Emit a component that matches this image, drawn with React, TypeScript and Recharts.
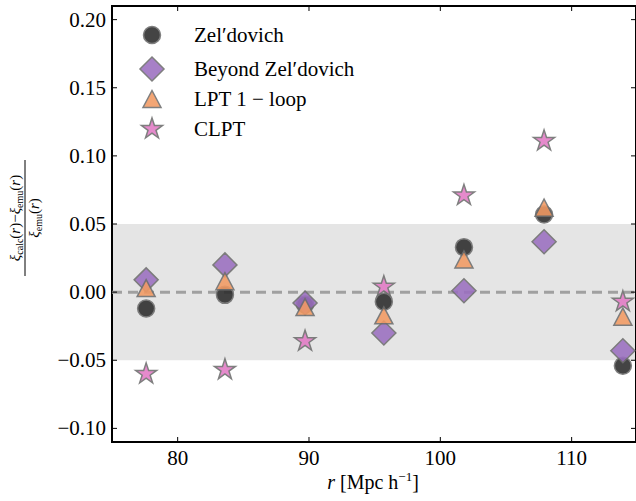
import React from 'react';
import { ScatterChart, Scatter, XAxis, YAxis, ReferenceArea, ReferenceLine, Legend } from 'recharts';

const rValues = [77.6, 83.6, 89.7, 95.7, 101.8, 107.9, 113.9];
const zeldovich = [-0.012, -0.002, -0.009, -0.007, 0.033, 0.057, -0.054];
const beyondZel = [0.009, 0.02, -0.008, -0.03, 0.001, 0.037, -0.043];
const lpt1loop = [0.003, 0.008, -0.011, -0.017, 0.024, 0.062, -0.018];
const clpt = [-0.06, -0.057, -0.036, 0.004, 0.071, 0.111, -0.007];

const seriesNames = ['Zel\u2032dovich', 'Beyond Zel\u2032dovich', 'LPT 1 \u2212 loop', 'CLPT'];
const xTicks = [80, 90, 100, 110];
const yTicks = [-0.1, -0.05, 0, 0.05, 0.1, 0.15, 0.2];

const W = 636;
const H = 501;
const PL = 112;
const PR = 636;
const PT = 6;
const PB = 442;
const EDGE = '#6e6e6e';
const SERIF = "'Liberation Serif'";

const colors = ['#2b2b2b', '#9b6fc0', '#f29a63', '#e27ac5'];
const kinds = ['circle', 'diamond', 'triangle', 'star'];

const toData = (vals: number[]) => rValues.map((r, i) => ({ r, v: vals[i] }));

function markerPath(kind: string, cx: number, cy: number): React.ReactNode {
  if (kind === 'circle') {
    return <circle cx={cx} cy={cy} r={8.5} />;
  }
  if (kind === 'diamond') {
    const d = 12;
    return <path d={`M${cx},${cy - d}L${cx + d},${cy}L${cx},${cy + d}L${cx - d},${cy}Z`} />;
  }
  if (kind === 'triangle') {
    const w = 9;
    const h = 8.5;
    return <path d={`M${cx},${cy - h}L${cx + w},${cy + h}L${cx - w},${cy + h}Z`} />;
  }
  const R = 11;
  const r = R * 0.382;
  let d = '';
  for (let k = 0; k < 10; k++) {
    const a = -Math.PI / 2 + (k * Math.PI) / 5;
    const rad = k % 2 === 0 ? R : r;
    d += `${k === 0 ? 'M' : 'L'}${cx + rad * Math.cos(a)},${cy + rad * Math.sin(a)}`;
  }
  return <path d={d + 'Z'} />;
}

const makeShape = (idx: number) => (props: any) => {
  const { cx, cy } = props;
  if (cx == null || cy == null) return <g />;
  return (
    <g fill={colors[idx]} stroke={EDGE} strokeWidth={1.5} opacity={0.88}>
      {markerPath(kinds[idx], cx, cy)}
    </g>
  );
};

const XTick = (props: any) => {
  const { x, payload } = props;
  return (
    <g>
      <line x1={x} x2={x} y1={PB} y2={PB - 5} stroke="#000" strokeWidth={1} />
      <line x1={x} x2={x} y1={PT} y2={PT + 5} stroke="#000" strokeWidth={1} />
      <text x={x} y={PB + 23} textAnchor="middle" style={{ fontFamily: SERIF, fontSize: 21 }} fill="#000">
        {payload.value}
      </text>
    </g>
  );
};

const YTick = (props: any) => {
  const { y, payload } = props;
  const label = Number(payload.value).toFixed(2).replace('-', '\u2212');
  return (
    <g>
      <line x1={PL} x2={PL + 5} y1={y} y2={y} stroke="#000" strokeWidth={1} />
      <line x1={PR - 5} x2={PR} y1={y} y2={y} stroke="#000" strokeWidth={1} />
      <text x={106} y={y + 7} textAnchor="end" style={{ fontFamily: SERIF, fontSize: 21 }} fill="#000">
        {label}
      </text>
    </g>
  );
};

const XLabel = () => (
  <text x={373} y={489} textAnchor="middle" style={{ fontFamily: SERIF, fontSize: 20 }} fill="#000">
    <tspan fontStyle="italic">r</tspan>
    <tspan> [Mpc h</tspan>
    <tspan dy={-8} fontSize={13}>{'\u22121'}</tspan>
    <tspan dy={8}>]</tspan>
  </text>
);

const YLabel = () => (
  <g transform="translate(25,218) rotate(-90)" fill="#000">
    <text x={0} y={-5} textAnchor="middle" style={{ fontFamily: SERIF, fontSize: 15 }}>
      <tspan fontStyle="italic">ξ</tspan>
      <tspan dy={3} fontSize={10}>calc</tspan>
      <tspan dy={-3}>(</tspan>
      <tspan fontStyle="italic">r</tspan>
      <tspan>){'\u2212'}</tspan>
      <tspan fontStyle="italic">ξ</tspan>
      <tspan dy={3} fontSize={10}>emu</tspan>
      <tspan dy={-3}>(</tspan>
      <tspan fontStyle="italic">r</tspan>
      <tspan>)</tspan>
    </text>
    <line x1={-58} x2={58} y1={0} y2={0} stroke="#000" strokeWidth={1} />
    <text x={0} y={14} textAnchor="middle" style={{ fontFamily: SERIF, fontSize: 15 }}>
      <tspan fontStyle="italic">ξ</tspan>
      <tspan dy={3} fontSize={10}>emu</tspan>
      <tspan dy={-3}>(</tspan>
      <tspan fontStyle="italic">r</tspan>
      <tspan>)</tspan>
    </text>
  </g>
);

const rowY = [35, 69, 99, 129];
const LegendContent = () => (
  <svg width={420} height={150} style={{ display: 'block' }}>
    {seriesNames.map((name, i) => (
      <g key={name}>
        <g fill={colors[i]} stroke={EDGE} strokeWidth={1.5} opacity={0.88}>
          {markerPath(kinds[i], 152, rowY[i])}
        </g>
        <text x={194} y={rowY[i] + 7} style={{ fontFamily: SERIF, fontSize: 21 }} fill="#000">
          {name}
        </text>
      </g>
    ))}
  </svg>
);

const allSeries = [zeldovich, beyondZel, lpt1loop, clpt];

export default function App() {
  return (
    <div style={{ position: 'absolute', left: 0, top: 0, width: W, height: H, overflow: 'hidden', background: '#fff' }}>
      <ScatterChart width={W} height={H} margin={{ top: PT, right: W - PR, bottom: 0, left: 0 }}>
        <XAxis
          type="number"
          dataKey="r"
          domain={[75, 114.9]}
          ticks={xTicks}
          allowDataOverflow
          height={H - PB}
          axisLine={false}
          tickLine={false}
          tick={<XTick />}
          label={{ content: () => <XLabel /> }}
        />
        <YAxis
          type="number"
          dataKey="v"
          domain={[-0.11, 0.21]}
          ticks={yTicks}
          allowDataOverflow
          width={PL}
          axisLine={false}
          tickLine={false}
          tick={<YTick />}
          label={{ content: () => <YLabel /> }}
        />
        <ReferenceArea y1={-0.05} y2={0.05} fill="#e5e5e5" fillOpacity={1} stroke="none" />
        <ReferenceLine y={0} stroke="#a0a0a0" strokeWidth={3} strokeDasharray="10 6" />
        <ReferenceArea
          x1={75}
          x2={114.9}
          y1={-0.11}
          y2={0.21}
          fill="none"
          stroke="#000"
          strokeWidth={2}
        />
        {allSeries.map((vals, i) => (
          <Scatter
            key={seriesNames[i]}
            name={seriesNames[i]}
            data={toData(vals)}
            fill={colors[i]}
            shape={makeShape(i)}
            isAnimationActive={false}
          />
        ))}
        <Legend
          layout="vertical"
          align="center"
          verticalAlign="middle"
          wrapperStyle={{ position: 'absolute', left: 0, top: 0, width: 420, height: 150, pointerEvents: 'none' }}
          content={() => <LegendContent />}
        />
      </ScatterChart>
    </div>
  );
}
